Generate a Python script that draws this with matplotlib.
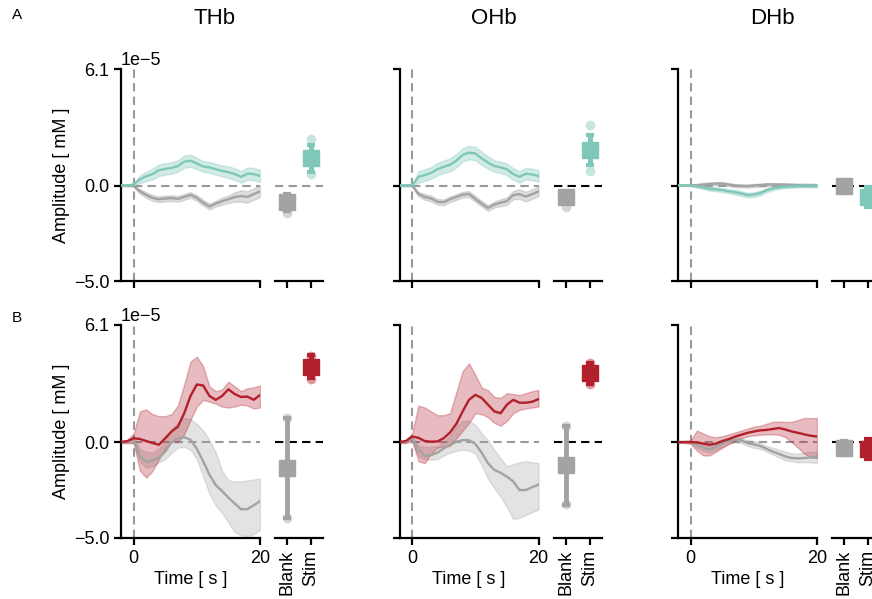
import numpy as np
import matplotlib.pyplot as plt

plt.rcParams['font.family'] = ['Liberation Sans', 'DejaVu Sans']

# time axis (s) and the traces, all in units of 1e-5 mM
time = np.arange(-2, 21)

# ---- row A (mean +- err)
thb_a_stim = [0, 0, 0.05, 0.33, 0.48, 0.6, 0.8, 0.87, 0.92, 1.02, 1.25, 1.3, 1.15, 1.0, 0.95, 0.85, 0.76, 0.7, 0.6, 0.45, 0.62, 0.6, 0.5]
thb_a_stim_err = [0.03, 0.03, 0.05, 0.2, 0.25, 0.28, 0.3, 0.3, 0.3, 0.3, 0.32, 0.32, 0.3, 0.28, 0.28, 0.28, 0.28, 0.3, 0.3, 0.3, 0.32, 0.32, 0.32]
thb_a_blank = [0, 0, -0.02, -0.31, -0.5, -0.65, -0.72, -0.68, -0.66, -0.7, -0.6, -0.49, -0.65, -0.9, -1.1, -0.95, -0.82, -0.72, -0.6, -0.55, -0.6, -0.45, -0.31]
thb_a_blank_err = [0.03, 0.03, 0.05, 0.12, 0.15, 0.15, 0.15, 0.15, 0.15, 0.15, 0.15, 0.15, 0.15, 0.15, 0.15, 0.15, 0.18, 0.2, 0.25, 0.3, 0.3, 0.3, 0.3]

ohb_a_stim = [0, 0, 0, 0.45, 0.55, 0.66, 0.85, 0.98, 1.08, 1.3, 1.6, 1.72, 1.68, 1.42, 1.2, 1.02, 0.95, 0.85, 0.6, 0.45, 0.62, 0.58, 0.5]
ohb_a_stim_err = [0.03, 0.03, 0.05, 0.3, 0.3, 0.3, 0.32, 0.32, 0.35, 0.35, 0.35, 0.35, 0.35, 0.35, 0.32, 0.3, 0.3, 0.3, 0.3, 0.3, 0.3, 0.3, 0.3]
ohb_a_blank = [0, 0, 0, -0.45, -0.6, -0.68, -0.85, -0.88, -0.72, -0.6, -0.48, -0.45, -0.7, -0.95, -1.18, -1.0, -0.9, -0.82, -0.5, -0.45, -0.58, -0.45, -0.31]
ohb_a_blank_err = [0.03, 0.03, 0.05, 0.12, 0.15, 0.15, 0.15, 0.15, 0.15, 0.15, 0.15, 0.15, 0.15, 0.15, 0.15, 0.15, 0.18, 0.2, 0.22, 0.25, 0.25, 0.25, 0.25]

dhb_a_stim = [0, 0, 0, -0.05, -0.1, -0.17, -0.2, -0.24, -0.3, -0.35, -0.42, -0.5, -0.48, -0.4, -0.25, -0.15, -0.1, -0.06, -0.04, -0.02, 0, 0, 0]
dhb_a_stim_err = [0.02, 0.02, 0.03, 0.06, 0.08, 0.1, 0.1, 0.1, 0.1, 0.12, 0.12, 0.12, 0.12, 0.12, 0.1, 0.1, 0.08, 0.08, 0.08, 0.08, 0.08, 0.08, 0.08]
dhb_a_blank = [0, 0, 0, 0.02, 0.05, 0.08, 0.1, 0.1, 0.05, 0, -0.02, -0.03, 0, 0.02, 0.05, 0.05, 0.05, 0.04, 0.03, 0.02, 0.02, 0.01, 0]
dhb_a_blank_err = [0.02, 0.02, 0.03, 0.06, 0.08, 0.08, 0.08, 0.08, 0.08, 0.08, 0.08, 0.08, 0.08, 0.08, 0.08, 0.08, 0.08, 0.08, 0.08, 0.08, 0.08, 0.08, 0.08]

# ---- row B (mean, lower, upper)
thb_b_stim = [0, 0.05, 0.2, 0.16, 0.05, -0.05, -0.14, 0.2, 0.55, 0.8, 1.5, 2.4, 3.0, 2.95, 2.4, 2.2, 2.4, 2.75, 2.5, 2.35, 2.37, 2.2, 2.45]
thb_b_stim_lo = [-0.05, -0.05, -0.05, -1.5, -1.85, -1.5, -0.9, -0.3, 0.0, 0.0, 0.4, 1.16, 1.85, 2.2, 2.1, 2.0, 1.85, 1.8, 1.85, 1.95, 1.9, 1.75, 1.8]
thb_b_stim_hi = [0.05, 0.1, 0.45, 1.6, 1.7, 1.45, 1.35, 1.35, 1.45, 1.9, 3.0, 4.2, 4.45, 3.95, 2.9, 2.65, 2.75, 3.15, 2.9, 2.65, 2.8, 2.85, 2.95]
thb_b_blank = [0, 0, 0.12, -0.75, -1.05, -0.95, -0.8, -0.5, 0.0, 0.18, 0.25, 0.12, -0.35, -1.0, -1.7, -2.25, -2.55, -2.9, -3.2, -3.5, -3.5, -3.3, -3.08]
thb_b_blank_lo = [-0.05, -0.05, -0.05, -1.0, -1.35, -1.25, -1.05, -0.9, -0.55, -0.3, -0.25, -0.4, -0.9, -1.8, -2.7, -3.3, -3.7, -4.2, -4.7, -4.85, -4.9, -4.8, -4.56]
thb_b_blank_hi = [0.05, 0.05, 0.3, -0.4, -0.5, -0.55, -0.35, 0.1, 0.7, 1.0, 1.25, 1.2, 0.95, 0.6, 0.1, -0.55, -1.5, -2.0, -2.05, -2.05, -2.0, -1.95, -1.9]

ohb_b_stim = [0, 0.05, 0.29, 0.22, 0.05, 0.02, 0.03, 0.2, 0.5, 0.95, 1.6, 2.2, 2.46, 2.3, 1.95, 1.6, 1.5, 1.95, 2.2, 2.05, 2.05, 2.1, 2.24]
ohb_b_stim_lo = [-0.05, -0.05, 0.1, -1.0, -1.1, -0.6, -0.3, -0.23, -0.2, 0.2, 0.6, 1.0, 1.5, 1.45, 1.3, 1.0, 0.85, 1.1, 1.5, 1.68, 1.75, 1.8, 1.85]
ohb_b_stim_hi = [0.05, 0.1, 0.45, 1.9, 1.8, 1.6, 1.4, 1.4, 1.5, 2.6, 3.7, 4.1, 3.5, 2.85, 2.7, 2.35, 2.3, 2.55, 2.5, 2.45, 2.55, 2.65, 2.72]
ohb_b_blank = [0, 0, 0.2, -0.4, -0.72, -0.68, -0.55, -0.33, -0.15, 0.02, 0.1, 0.1, -0.1, -0.55, -1.1, -1.45, -1.6, -1.8, -2.05, -2.5, -2.5, -2.35, -2.22]
ohb_b_blank_lo = [-0.05, -0.05, 0.0, -0.75, -0.9, -0.92, -0.9, -0.7, -0.55, -0.45, -0.4, -0.45, -0.6, -1.2, -1.9, -2.4, -2.85, -3.4, -4.0, -3.95, -3.8, -3.65, -3.52]
ohb_b_blank_hi = [0.05, 0.05, 0.3, -0.2, -0.25, -0.25, -0.22, 0.0, 0.35, 0.8, 1.1, 1.1, 0.9, 0.45, 0.1, -0.4, -0.85, -1.25, -1.15, -1.05, -1.0, -1.05, -1.09]

dhb_b_stim = [0, 0, 0, -0.02, -0.08, -0.14, -0.08, 0.05, 0.15, 0.28, 0.38, 0.48, 0.55, 0.61, 0.63, 0.68, 0.73, 0.65, 0.55, 0.48, 0.4, 0.33, 0.29]
dhb_b_stim_lo = [-0.05, -0.05, -0.1, -0.45, -0.7, -0.7, -0.5, -0.3, -0.1, 0.05, 0.2, 0.3, 0.35, 0.38, 0.4, 0.4, 0.38, 0.25, 0.0, -0.3, -0.6, -0.8, -0.83]
dhb_b_stim_hi = [0.05, 0.05, 0.1, 0.6, 0.45, 0.3, 0.25, 0.3, 0.4, 0.5, 0.6, 0.7, 0.8, 0.85, 0.95, 1.05, 1.07, 1.05, 1.05, 1.15, 1.25, 1.25, 1.25]
dhb_b_blank = [0, 0, 0, -0.14, -0.3, -0.38, -0.25, -0.1, 0.05, 0.12, 0.08, -0.05, -0.12, -0.2, -0.35, -0.5, -0.62, -0.75, -0.83, -0.85, -0.83, -0.8, -0.78]
dhb_b_blank_lo = [-0.03, -0.03, -0.05, -0.3, -0.45, -0.55, -0.4, -0.25, -0.1, 0.0, -0.05, -0.2, -0.3, -0.35, -0.5, -0.65, -0.8, -0.95, -1.0, -1.05, -1.05, -1.05, -1.1]
dhb_b_blank_hi = [0.03, 0.03, 0.05, 0.0, -0.15, -0.2, -0.1, 0.05, 0.2, 0.25, 0.2, 0.1, 0.05, -0.05, -0.2, -0.3, -0.4, -0.5, -0.6, -0.6, -0.55, -0.5, -0.5]

# ---- summary (Blank / Stim) per column THb, OHb, DHb
a_blank_mean = [-0.87, -0.61, 0.0]
a_blank_err = [0.45, 0.3, 0.3]
a_blank_pts = [[-1.45], [-1.1], []]
a_stim_mean = [1.43, 1.86, -0.6]
a_stim_err = [0.7, 0.8, 0.5]
a_stim_pts = [[2.45, 0.6], [3.17, 0.78], []]

b_blank_mean = [-1.35, -1.21, -0.31]
b_blank_err = [2.6, 2.05, 0.35]
b_blank_pts = [[1.25, -3.95], [0.85, -3.25], []]
b_stim_mean = [3.93, 3.59, -0.36]
b_stim_err = [0.6, 0.55, 0.5]
b_stim_pts = [[4.5, 3.3], [4.1, 3.05], []]

titles = ['THb', 'OHb', 'DHb']
conditions = ['Blank', 'Stim']

TEAL = '#7fc7b8'
RED = '#b2202c'
GREY = '#a3a3a3'
SCALE = 1e-5
FS = 13

fig = plt.figure(figsize=(8.72, 5.99), dpi=100)
W, H = 872.0, 599.0


def add_axes(x0, y0, x1, y1):
    return fig.add_axes([x0 / W, 1 - y1 / H, (x1 - x0) / W, (y1 - y0) / H])


def style_main(ax, col, bottom_row):
    ax.set_xlim(-2, 20)
    ax.set_ylim(-5.0 * SCALE, 6.1 * SCALE)
    ax.set_yticks([-5.0 * SCALE, 0, 6.1 * SCALE])
    ax.set_xticks([0, 20])
    ax.ticklabel_format(axis='y', style='sci', scilimits=(0, 0))
    for s in ['top', 'right']:
        ax.spines[s].set_visible(False)
    for s in ['left', 'bottom']:
        ax.spines[s].set_linewidth(1.6)
    ax.tick_params(width=1.6, length=5, labelsize=FS)
    ax.axvline(0, color='#999999', lw=1.5, ls=(0, (4, 2.5)), zorder=1)
    ax.hlines(0, 0, 20, color='#999999', lw=1.5, ls=(0, (4, 2.5)), zorder=1)
    if col == 0:
        ax.set_ylabel('Amplitude [ mM ]', fontsize=FS, labelpad=3)
        ax.yaxis.offsetText.set_fontsize(FS)
    else:
        ax.tick_params(labelleft=False)
        ax.yaxis.offsetText.set_visible(False)
    if bottom_row:
        ax.set_xlabel('Time [ s ]', fontsize=FS, labelpad=3)
    else:
        ax.tick_params(labelbottom=False)


def style_side(ax, bottom_row, zero_color):
    ax.set_xlim(-0.5, 1.5)
    ax.set_ylim(-5.0 * SCALE, 6.1 * SCALE)
    ax.set_yticks([])
    ax.set_xticks([0, 1])
    for s in ['top', 'right', 'left']:
        ax.spines[s].set_visible(False)
    ax.spines['bottom'].set_linewidth(1.6)
    ax.tick_params(width=1.6, length=5, labelsize=FS)
    ax.axhline(0, color=zero_color, lw=1.5, ls=(0, (4, 2.5)), zorder=1)
    if bottom_row:
        ax.set_xticklabels(conditions, rotation=90)
    else:
        ax.tick_params(labelbottom=False)


def summary(ax, x, mean, err, pts, color):
    for p in pts:
        ax.plot(x, p * SCALE, 'o', color=color, ms=7, alpha=0.45, mec='none', zorder=2)
    ax.errorbar(x, mean * SCALE, yerr=err * SCALE, fmt='s', color=color, ms=12,
                elinewidth=3.5, capsize=3, capthick=3, zorder=3)


def trace(ax, y, lo, hi, color, band_alpha):
    y = np.array(y) * SCALE
    ax.fill_between(time, np.array(lo) * SCALE, np.array(hi) * SCALE, color=color,
                    alpha=band_alpha, lw=1, zorder=2)
    ax.plot(time, y, color=color, lw=1.7, zorder=3)


rows_a = [
    (thb_a_blank, thb_a_blank_err, thb_a_stim, thb_a_stim_err),
    (ohb_a_blank, ohb_a_blank_err, ohb_a_stim, ohb_a_stim_err),
    (dhb_a_blank, dhb_a_blank_err, dhb_a_stim, dhb_a_stim_err),
]
rows_b = [
    (thb_b_blank, thb_b_blank_lo, thb_b_blank_hi, thb_b_stim, thb_b_stim_lo, thb_b_stim_hi),
    (ohb_b_blank, ohb_b_blank_lo, ohb_b_blank_hi, ohb_b_stim, ohb_b_stim_lo, ohb_b_stim_hi),
    (dhb_b_blank, dhb_b_blank_lo, dhb_b_blank_hi, dhb_b_stim, dhb_b_stim_lo, dhb_b_stim_hi),
]

step = 278.5
for col in range(3):
    dx = step * col

    # row A
    ax = add_axes(121 + dx, 69, 260 + dx, 281)
    bl, ble, st, ste = rows_a[col]
    bl, ble, st, ste = map(np.array, (bl, ble, st, ste))
    trace(ax, bl, bl - ble, bl + ble, GREY, 0.35)
    trace(ax, st, st - ste, st + ste, TEAL, 0.35)
    style_main(ax, col, False)

    sax = add_axes(275 + dx, 69, 323 + dx, 281)
    summary(sax, 0, a_blank_mean[col], a_blank_err[col], a_blank_pts[col], GREY)
    summary(sax, 1, a_stim_mean[col], a_stim_err[col], a_stim_pts[col], TEAL)
    style_side(sax, False, '#999999' if col == 0 else 'black')

    # row B
    ax = add_axes(121 + dx, 325, 260 + dx, 538)
    bl, bllo, blhi, st, stlo, sthi = rows_b[col]
    trace(ax, bl, bllo, blhi, GREY, 0.3)
    trace(ax, st, stlo, sthi, RED, 0.3)
    style_main(ax, col, True)

    sax = add_axes(275 + dx, 325, 323 + dx, 538)
    summary(sax, 0, b_blank_mean[col], b_blank_err[col], b_blank_pts[col], GREY)
    summary(sax, 1, b_stim_mean[col], b_stim_err[col], b_stim_pts[col], RED)
    style_side(sax, True, 'black')

    fig.text((215 + dx) / W, 1 - 19 / H, titles[col], fontsize=16, ha='center', va='center')

fig.text(12 / W, 1 - 15 / H, 'A', fontsize=11, ha='left', va='center')
fig.text(12 / W, 1 - 318 / H, 'B', fontsize=11, ha='left', va='center')

plt.savefig('out.png', dpi=100)
